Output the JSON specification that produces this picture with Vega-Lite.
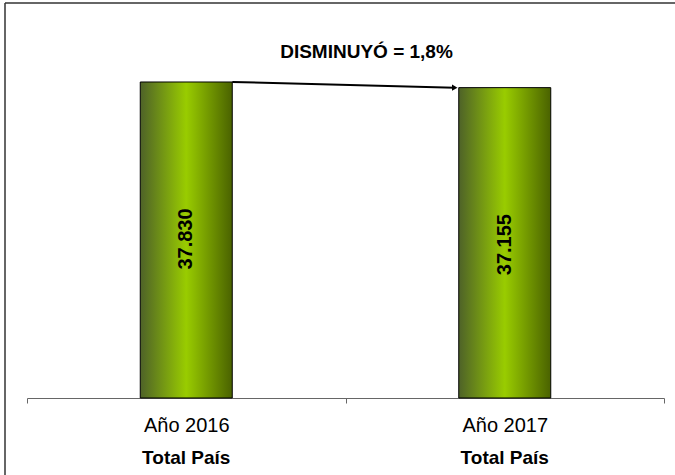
{
  "$schema": "https://vega.github.io/schema/vega-lite/v6.json",
  "autosize": {"type": "none"},
  "width": 670,
  "height": 472,
  "padding": {"left": 5, "top": 3, "right": 0, "bottom": 0},
  "background": "white",
  "config": {
    "view": {"stroke": null},
    "font": "Liberation Sans"
  },
  "datasets": {
    "bars": [
      {"year": "Año 2016", "value": 37830, "label": "37.830", "group": "Total País"},
      {"year": "Año 2017", "value": 37155, "label": "37.155", "group": "Total País"}
    ],
    "arrow": [
      {"from": "Año 2016", "to": "Año 2017", "v1": 37830, "v2": 37155}
    ],
    "notes": [
      {"text": "DISMINUYÓ = 1,8%"}
    ],
    "frame": [
      {"edge": 0, "top": 47287}
    ]
  },
  "resolve": {"scale": {"x": "independent"}},
  "layer": [
    {
      "layer": [
        {
          "data": {"name": "bars"},
          "mark": {
            "type": "bar",
            "width": 92,
            "stroke": "#000000",
            "strokeWidth": 1,
            "color": {
              "gradient": "linear",
              "x1": 0, "x2": 1, "y1": 0, "y2": 0,
              "stops": [
                {"offset": 0, "color": "#4e6228"},
                {"offset": 0.5, "color": "#99cc00"},
                {"offset": 1, "color": "#4a6200"}
              ]
            }
          },
          "encoding": {
            "x": {
              "field": "year", "type": "nominal",
              "scale": {"range": [22, 659], "paddingInner": 0, "paddingOuter": 0},
              "axis": {
                "orient": "bottom",
                "offset": -77,
                "title": null,
                "labelAngle": 0,
                "tickBand": "extent",
                "tickSize": 5,
                "domainColor": "#666666",
                "tickColor": "#666666",
                "labelColor": "#000000",
                "labelFont": "Liberation Sans",
                "labelFontSize": 20,
                "labelPadding": 12,
                "grid": false
              }
            },
            "y": {
              "field": "value", "type": "quantitative",
              "scale": {"domain": [-9218, 47287], "nice": false, "zero": false},
              "axis": null
            }
          }
        },
        {
          "data": {"name": "bars"},
          "mark": {
            "type": "text",
            "angle": 270,
            "align": "center",
            "baseline": "middle",
            "yOffset": 157,
            "font": "Liberation Sans",
            "fontWeight": "bold",
            "fontSize": 20,
            "color": "#000000"
          },
          "encoding": {
            "x": {"field": "year", "type": "nominal"},
            "y": {"field": "value", "type": "quantitative"},
            "text": {"field": "label"}
          }
        },
        {
          "data": {"name": "bars"},
          "mark": {
            "type": "text",
            "align": "center",
            "baseline": "middle",
            "font": "Liberation Sans",
            "fontWeight": "bold",
            "fontSize": 19,
            "color": "#000000"
          },
          "encoding": {
            "x": {"field": "year", "type": "nominal"},
            "y": {"datum": -7183, "type": "quantitative"},
            "text": {"field": "group"}
          }
        },
        {
          "data": {"name": "arrow"},
          "mark": {
            "type": "rule",
            "color": "#000000",
            "strokeWidth": 2,
            "xOffset": 46,
            "x2Offset": -50
          },
          "encoding": {
            "x": {"field": "from", "type": "nominal"},
            "x2": {"field": "to"},
            "y": {"field": "v1", "type": "quantitative"},
            "y2": {"field": "v2"}
          }
        },
        {
          "data": {"name": "arrow"},
          "mark": {
            "type": "point",
            "shape": "triangle-right",
            "filled": true,
            "color": "#000000",
            "opacity": 1,
            "size": 40,
            "xOffset": -50
          },
          "encoding": {
            "x": {"field": "to", "type": "nominal"},
            "y": {"field": "v2", "type": "quantitative"}
          }
        },
        {
          "data": {"name": "notes"},
          "mark": {
            "type": "text",
            "align": "center",
            "baseline": "middle",
            "dx": 21,
            "font": "Liberation Sans",
            "fontWeight": "bold",
            "fontSize": 19,
            "color": "#000000"
          },
          "encoding": {
            "x": {"datum": "Año 2016", "type": "nominal", "bandPosition": 1},
            "y": {"datum": 41421, "type": "quantitative"},
            "text": {"field": "text"}
          }
        },
        {
          "data": {"name": "frame"},
          "mark": {"type": "rule", "color": "#333333", "strokeWidth": 1.5},
          "encoding": {
            "y": {"field": "top", "type": "quantitative"}
          }
        }
      ]
    },
    {
      "data": {"name": "frame"},
      "mark": {"type": "rule", "color": "#333333", "strokeWidth": 1.5},
      "encoding": {
        "x": {"field": "edge", "type": "quantitative", "scale": {"domain": [0, 1]}, "axis": null}
      }
    }
  ]
}
